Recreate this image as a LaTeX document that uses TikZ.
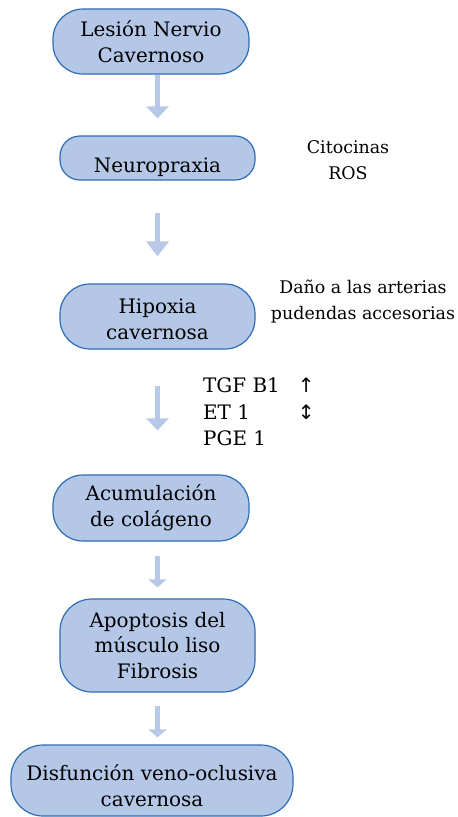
\documentclass[tikz,border=0pt]{standalone}
\usepackage{fontspec}
\setmainfont{DejaVu Serif}
\newfontfamily\simbolos{DejaVu Sans}
\usepackage{tikz}
\usetikzlibrary{arrows.meta}
\definecolor{relleno}{HTML}{B4C7E7}
\definecolor{borde}{HTML}{2E6DB4}
\definecolor{flechaazul}{HTML}{B8C9E8}
\tikzset{
	caja/.style={draw=borde, fill=relleno, line width=1.2bp, align=center, inner sep=0pt,
		font=\fontsize{20}{26}\selectfont},
	lado/.style={align=center, inner sep=0pt, font=\fontsize{17.5}{26.5}\selectfont},
	flecha/.style={draw=flechaazul, line width=5.5bp, -{Triangle[width=22bp,length=12bp]}},
	flechita/.style={draw=flechaazul, line width=5bp, -{Triangle[width=18bp,length=8bp]}}
}

\begin{document}
\begin{tikzpicture}[x=1bp, y=-1bp]
		%%%%% START %%%%%
		\useasboundingbox (0,0) rectangle (458,817);
		
		\node[caja, minimum width=196bp, minimum height=65bp, rounded corners=30bp] (lesion) at (151, 41.5) {Lesión Nervio\\Cavernoso};
		\node[caja, minimum width=195bp, minimum height=44bp, rounded corners=20bp] (neuro) at (157.5, 158) {\raisebox{-9bp}[\height][\depth]{Neuropraxia}};
		\node[caja, minimum width=195bp, minimum height=65bp, rounded corners=30bp] (hipox) at (157.5, 316.5) {\raisebox{-3bp}[\height][\depth]{Hipoxia}\\\raisebox{-3bp}[\height][\depth]{cavernosa}};
		\node[caja, minimum width=196bp, minimum height=66bp, rounded corners=30bp] (acum) at (151, 508) {Acumulación\\de colágeno};
		\node[caja, minimum width=195bp, minimum height=93bp, rounded corners=32bp] (apop) at (157.5, 645.5) {Apoptosis del\\músculo liso\\Fibrosis};
		\node[caja, minimum width=282bp, minimum height=71bp, rounded corners=32bp] (disf) at (152, 780.5) {\raisebox{-5bp}[\height][\depth]{Disfunción veno-oclusiva}\\\raisebox{-5bp}[\height][\depth]{cavernosa}};
		
		\node[lado] (citocinas) at (348, 160) {Citocinas\\ROS};
		\node[lado] (dano) at (363, 301.5) {Daño a las arterias\\pudendas accesorias};
		\node[anchor=north west, inner sep=0pt, font=\fontsize{20}{26.5}\selectfont] (mediadores) at (203, 374)
			{\begin{tabular}{@{}l@{\hspace{18bp}}c@{}}TGF B1 & {\simbolos ↑}\\ ET 1 & {\simbolos ↕}\\ PGE 1 & \end{tabular}};
		
		% flechas
		\draw[flecha, shorten >=17bp] (lesion.south -| neuro.south) -- (neuro.north);
		\draw[flecha, -{Triangle[width=22bp,length=15bp]}, shorten <=32bp, shorten >=27bp] (neuro.south) -- (hipox.north);
		\draw[flecha, shorten <=36bp, shorten >=44bp] (hipox.south) -- (acum.north -| hipox.south);
		\draw[flechita, shorten <=14bp, shorten >=11bp] (acum.south -| apop.north) -- (apop.north);
		\draw[flechita, shorten <=13bp, shorten >=7bp] (apop.south) -- (disf.north -| apop.south);
		%%%%% END %%%%%
	\end{tikzpicture}
\end{document}
